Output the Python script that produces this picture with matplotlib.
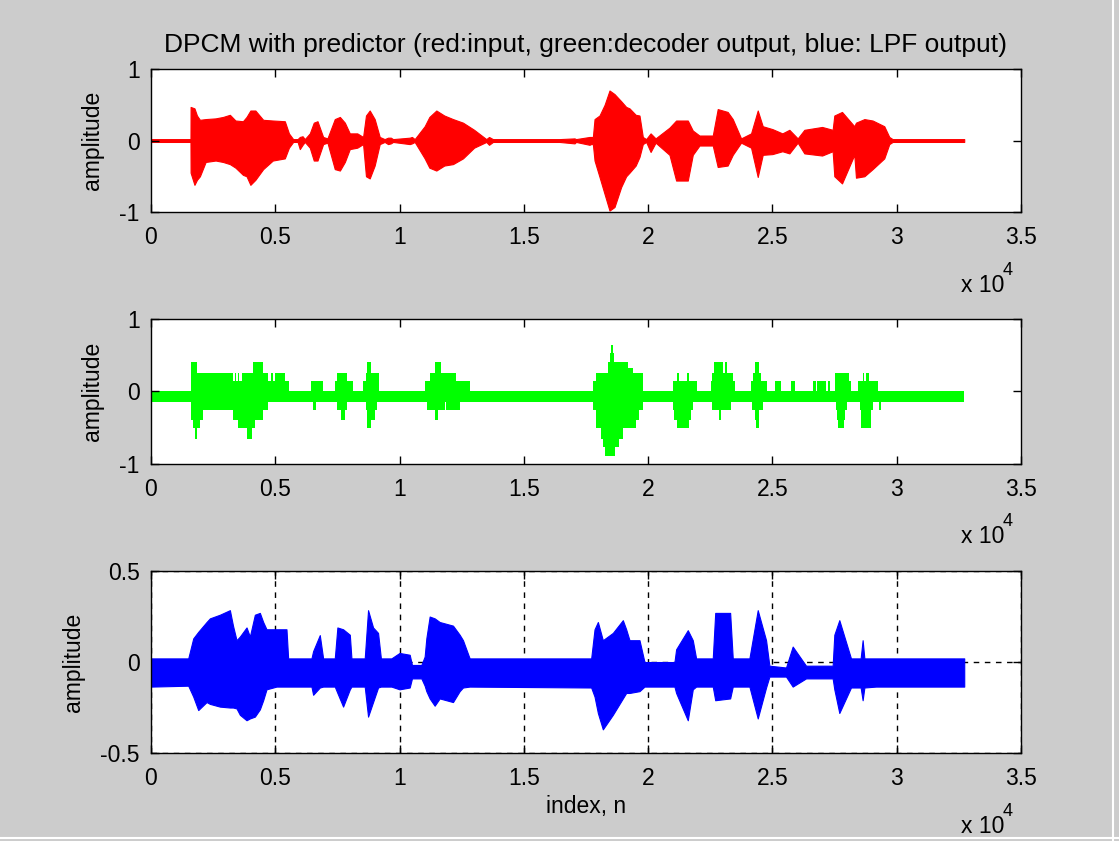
import matplotlib
matplotlib.use("Agg")
import matplotlib.pyplot as plt
from matplotlib.lines import Line2D

# Hüllkurven der drei Signale (Index n, oben, unten)
red_n = [0, 1590, 1595, 1750, 1850, 1969, 2200, 2600, 2900, 3175, 3400, 3700, 3845, 4000, 4200,
         4514, 4900, 5385, 5550, 5720, 5900, 5988, 6100, 6189, 6390, 6550, 6700, 6926, 7100,
         7395, 7600, 7800, 7998, 8300, 8534, 8650, 8800, 9000, 9203, 9400, 9538, 9650, 9739,
         10409, 10500, 10610, 11011, 11200, 11480, 11800, 12150, 12552, 13000, 13490, 13600,
         13757, 16438, 17041, 17100, 17644, 17700, 17778, 17845, 18045, 18250, 18447, 18648,
         18916, 19117, 19251, 19500, 19653, 19787, 19921, 20100, 20300, 20859, 21127, 21596,
         21797, 22065, 22601, 22800, 23200, 23405, 23740, 24142, 24410, 24611, 25000, 25400,
         25682, 26017, 26285, 27000, 27424, 27491, 27800, 28295, 28362, 28700, 29032, 29500,
         29702, 29836, 32717]
red_hi = [0.02, 0.02, 0.47, 0.45, 0.35, 0.29, 0.30, 0.31, 0.33, 0.36, 0.28, 0.27, 0.33, 0.42, 0.42,
          0.29, 0.28, 0.27, 0.10, 0.02, 0.02, 0.05, 0.06, 0.02, 0.10, 0.25, 0.27, 0.05, 0.03,
          0.30, 0.33, 0.25, 0.10, 0.10, 0.05, 0.35, 0.42, 0.30, 0.05, 0.02, 0.04, 0.04, 0.02,
          0.04, 0.05, 0.02, 0.20, 0.33, 0.42, 0.35, 0.30, 0.25, 0.15, 0.02, 0.05,
          0.02, 0.02, 0.03, 0.02, 0.05, 0.05, 0.05, 0.30, 0.35, 0.50, 0.70, 0.65,
          0.55, 0.47, 0.45, 0.36, 0.35, 0.05, 0.02, 0.10, 0.03, 0.18, 0.28, 0.28,
          0.14, 0.07, 0.07, 0.44, 0.40, 0.30, 0.03, 0.10, 0.42, 0.20, 0.16, 0.10,
          0.15, 0.03, 0.15, 0.19, 0.15, 0.35, 0.40, 0.20, 0.25, 0.30, 0.28, 0.20,
          0.05, 0.02, 0.02]
red_lo = [-0.02, -0.02, -0.45, -0.62, -0.55, -0.50, -0.30, -0.28, -0.30, -0.33, -0.38, -0.48, -0.50, -0.62, -0.55,
          -0.40, -0.28, -0.25, -0.10, -0.02, -0.02, -0.12, -0.06, -0.02, -0.10, -0.28, -0.28, -0.05, -0.03,
          -0.40, -0.42, -0.30, -0.12, -0.10, -0.05, -0.50, -0.53, -0.35, -0.05, -0.02, -0.05, -0.04, -0.02,
          -0.05, -0.04, -0.02, -0.25, -0.38, -0.42, -0.35, -0.33, -0.25, -0.10, -0.02, -0.06,
          -0.02, -0.02, -0.04, -0.02, -0.06, -0.05, -0.05, -0.28, -0.51, -0.75, -0.98, -0.93,
          -0.65, -0.50, -0.45, -0.35, -0.23, -0.05, -0.02, -0.16, -0.03, -0.20, -0.56, -0.56,
          -0.20, -0.07, -0.07, -0.37, -0.35, -0.20, -0.03, -0.10, -0.51, -0.20, -0.19, -0.15,
          -0.18, -0.03, -0.18, -0.21, -0.15, -0.50, -0.60, -0.20, -0.52, -0.50, -0.40, -0.25,
          -0.05, -0.02, -0.02]

green_n = [0, 1594, 1701, 1768, 1862, 1969, 2103, 3309, 3376, 3420, 3510, 3560, 3644, 3845, 4046,
           4113, 4180, 4514, 4715, 4849, 4900, 4983, 5030, 5050, 5385, 5560, 6457, 6524, 6658,
           6926, 7395, 7489, 7636, 7797, 7891, 8132, 8534, 8668, 8708, 8842, 9002, 9096, 9176,
           11011, 11105, 11212, 11413, 11547, 11681, 11815, 11882, 12284, 12418, 12820,
           17778, 17885, 17912, 18113, 18179, 18246, 18380, 18447, 18514, 18581, 18621, 18648,
           18849, 18983, 19184, 19385, 19519, 19653, 19787, 20993, 21060, 21154, 21234, 21556,
           21636, 21730, 21797, 21958, 22534, 22574, 22668, 22842, 22936, 23003, 23097, 23177,
           23338, 23405, 23512, 24142, 24182, 24236, 24289, 24343, 24450, 24477, 24544, 24611,
           24771, 25120, 25347, 25756, 25916, 26653, 26750, 26790, 27150, 27230, 27300, 27504,
           27531, 27558, 27585, 27625, 27893, 27933, 27987, 28094, 28161, 28429, 28536, 28563,
           28630, 28700, 28764, 28898, 28965, 29032, 29233, 29300, 29367, 32717]
green_hi = [0.01, 0.40, 0.40, 0.40, 0.26, 0.26, 0.26, 0.15, 0.26, 0.15, 0.26, 0.15, 0.26, 0.26, 0.26,
            0.40, 0.40, 0.26, 0.15, 0.26, 0.15, 0.26, 0.15, 0.26, 0.15, 0.01, 0.15, 0.15, 0.15,
            0.01, 0.15, 0.26, 0.26, 0.26, 0.15, 0.01, 0.15, 0.26, 0.40, 0.26, 0.26, 0.26, 0.01,
            0.15, 0.15, 0.26, 0.40, 0.40, 0.26, 0.26, 0.26, 0.15, 0.15, 0.01,
            0.15, 0.26, 0.26, 0.26, 0.26, 0.26, 0.40, 0.53, 0.64, 0.53, 0.40, 0.40,
            0.40, 0.40, 0.32, 0.26, 0.26, 0.26, 0.01, 0.15, 0.15, 0.26, 0.15, 0.26,
            0.15, 0.15, 0.15, 0.01, 0.15, 0.26, 0.40, 0.40, 0.40, 0.26, 0.40, 0.26,
            0.26, 0.15, 0.01, 0.15, 0.15, 0.26, 0.40, 0.40, 0.26, 0.26, 0.15, 0.15,
            0.01, 0.15, 0.01, 0.15, 0.01, 0.15, 0.01, 0.15, 0.01, 0.15, 0.01, 0.15,
            0.26, 0.26, 0.26, 0.26, 0.26, 0.26, 0.26, 0.15, 0.01, 0.15, 0.15, 0.15,
            0.26, 0.15, 0.26, 0.15, 0.15, 0.15, 0.01, 0.01, 0.01, 0.01]
green_lo = [-0.14, -0.39, -0.51, -0.65, -0.51, -0.39, -0.255, -0.39, -0.39, -0.39, -0.51, -0.51, -0.51, -0.65, -0.51,
            -0.51, -0.39, -0.255, -0.14, -0.14, -0.14, -0.14, -0.14, -0.14, -0.14, -0.14, -0.14, -0.255, -0.14,
            -0.14, -0.14, -0.255, -0.39, -0.255, -0.14, -0.14, -0.14, -0.255, -0.51, -0.39, -0.255, -0.14, -0.14,
            -0.14, -0.255, -0.255, -0.39, -0.255, -0.255, -0.14, -0.255, -0.255, -0.14, -0.14,
            -0.255, -0.39, -0.51, -0.65, -0.76, -0.885, -0.885, -0.885, -0.885, -0.885, -0.885, -0.76,
            -0.65, -0.51, -0.51, -0.51, -0.39, -0.255, -0.14, -0.255, -0.39, -0.51, -0.51, -0.51,
            -0.39, -0.255, -0.14, -0.14, -0.14, -0.255, -0.255, -0.39, -0.255, -0.255, -0.255, -0.255,
            -0.14, -0.14, -0.14, -0.14, -0.255, -0.255, -0.39, -0.51, -0.39, -0.255, -0.255, -0.14,
            -0.14, -0.14, -0.14, -0.14, -0.14, -0.14, -0.14, -0.14, -0.14, -0.14, -0.14, -0.14,
            -0.14, -0.255, -0.39, -0.51, -0.39, -0.255, -0.14, -0.14, -0.14, -0.14, -0.255, -0.51,
            -0.51, -0.51, -0.51, -0.51, -0.255, -0.14, -0.14, -0.255, -0.14, -0.14]

blue_n = [0, 1500, 1701, 1902, 2237, 2371, 2773, 3175, 3300, 3443, 3577, 3845, 3979, 4180, 4381,
          4514, 4648, 5050, 5452, 5519, 6457, 6524, 6792, 6926, 7395, 7500, 7730, 8000, 8065,
          8600, 8734, 8935, 9136, 9250, 9672, 10000, 10409, 10500, 10878, 11011, 11078, 11212,
          11413, 11614, 12150, 12418, 12552, 12820, 17710, 17845, 17979, 18179, 18581, 18983,
          19117, 19251, 19653, 19854, 21060, 21127, 21596, 21797, 21931, 22601, 22700, 23300,
          23405, 24075, 24410, 24745, 24879, 25548, 25816, 26352, 27424, 27491, 27692, 28161,
          28550, 28630, 28700, 29166, 32717]
blue_hi = [0.02, 0.02, 0.13, 0.166, 0.22, 0.24, 0.26, 0.285, 0.20, 0.12, 0.14, 0.19, 0.14, 0.26, 0.27,
           0.22, 0.18, 0.18, 0.18, 0.02, 0.02, 0.06, 0.148, 0.02, 0.02, 0.19, 0.18, 0.15, 0.02,
           0.02, 0.285, 0.19, 0.16, 0.02, 0.02, 0.05, 0.04, -0.016, -0.016, 0.03, 0.13, 0.25,
           0.24, 0.22, 0.20, 0.15, 0.12, 0.02, 0.02, 0.18, 0.22, 0.12, 0.16, 0.23,
           0.18, 0.12, 0.12, 0.0, 0.0, 0.07, 0.175, 0.12, 0.02, 0.02, 0.27, 0.27,
           0.02, 0.02, 0.285, 0.12, -0.02, -0.03, 0.085, -0.02, -0.02, 0.15, 0.23, 0.02,
           0.02, 0.12, 0.02, 0.02, 0.02]
blue_lo = [-0.135, -0.13, -0.19, -0.264, -0.22, -0.23, -0.245, -0.25, -0.25, -0.255, -0.29, -0.32, -0.31, -0.30, -0.26,
           -0.21, -0.15, -0.135, -0.135, -0.135, -0.135, -0.18, -0.14, -0.135, -0.135, -0.17, -0.245, -0.15, -0.135,
           -0.135, -0.30, -0.22, -0.14, -0.135, -0.135, -0.15, -0.14, -0.09, -0.09, -0.13, -0.16, -0.20,
           -0.24, -0.20, -0.22, -0.16, -0.14, -0.135, -0.14, -0.19, -0.28, -0.37, -0.29, -0.20,
           -0.17, -0.17, -0.16, -0.135, -0.135, -0.17, -0.32, -0.15, -0.135, -0.135, -0.21, -0.20,
           -0.135, -0.135, -0.31, -0.14, -0.08, -0.08, -0.135, -0.09, -0.09, -0.15, -0.28, -0.14,
           -0.14, -0.21, -0.14, -0.135, -0.135]

x_ticks = [0, 5000, 10000, 15000, 20000, 25000, 30000, 35000]
x_tick_labels = ['0', '0.5', '1', '1.5', '2', '2.5', '3', '3.5']

plt.rcParams['font.family'] = ['Liberation Sans', 'DejaVu Sans']
plt.rcParams['font.size'] = 16.5

fig = plt.figure(figsize=(11.19, 8.41), dpi=100, facecolor='#cccccc')

ax1 = fig.add_axes([0.1349, 0.7479, 0.7775, 0.1700])
ax2 = fig.add_axes([0.1349, 0.4483, 0.7775, 0.1724])
ax3 = fig.add_axes([0.1349, 0.1046, 0.7775, 0.2164])


def achse_gestalten(ax, ylim, yticks, ylabels):
    ax.set_xlim(0, 35000)
    ax.set_ylim(*ylim)
    ax.set_xticks(x_ticks)
    ax.set_xticklabels(x_tick_labels)
    ax.set_yticks(yticks)
    ax.set_yticklabels(ylabels)
    ax.tick_params(direction='in', length=6, width=1, top=True, right=True)
    ax.tick_params(axis='x', pad=10)
    ax.tick_params(axis='y', pad=8)
    for s in ax.spines.values():
        s.set_linewidth(1)
    ax.set_ylabel('amplitude', labelpad=11)
    ax.annotate('x 10', xy=(1, 0), xycoords='axes fraction', xytext=(-60, -73),
                textcoords='offset pixels', ha='left', va='center')
    ax.annotate('4', xy=(1, 0), xycoords='axes fraction', xytext=(-18, -58),
                textcoords='offset pixels', ha='left', va='center', fontsize=13)


ax1.fill_between(red_n, red_lo, red_hi, color='#ff0000', linewidth=0.8, edgecolor='#ff0000')
achse_gestalten(ax1, (-1, 1), [-1, 0, 1], ['-1', '0', '1'])
ax1.set_title('DPCM with predictor (red:input, green:decoder output, blue: LPF output)',
              fontsize=19, pad=12)

ax2.fill_between(green_n, green_lo, green_hi, step='post', color='#00ff00', linewidth=0)
achse_gestalten(ax2, (-1, 1), [-1, 0, 1], ['-1', '0', '1'])

ax3.set_axisbelow(True)
ax3.grid(True, color='black', linestyle=(0, (4, 4)), linewidth=1)
ax3.fill_between(blue_n, blue_lo, blue_hi, color='#0000ff', linewidth=0.8, edgecolor='#0000ff')
achse_gestalten(ax3, (-0.5, 0.5), [-0.5, 0, 0.5], ['-0.5', '0', '0.5'])
ax3.set_xlabel('index, n', labelpad=4)

# heller Rand rechts und unten wie im Bildschirmfoto
fig.add_artist(Line2D([0.9946, 0.9946], [0, 1], color='white', linewidth=1.5))
fig.add_artist(Line2D([0, 1], [0.0036, 0.0036], color='white', linewidth=1.5))

fig.savefig('out.png', dpi=100, facecolor=fig.get_facecolor())
